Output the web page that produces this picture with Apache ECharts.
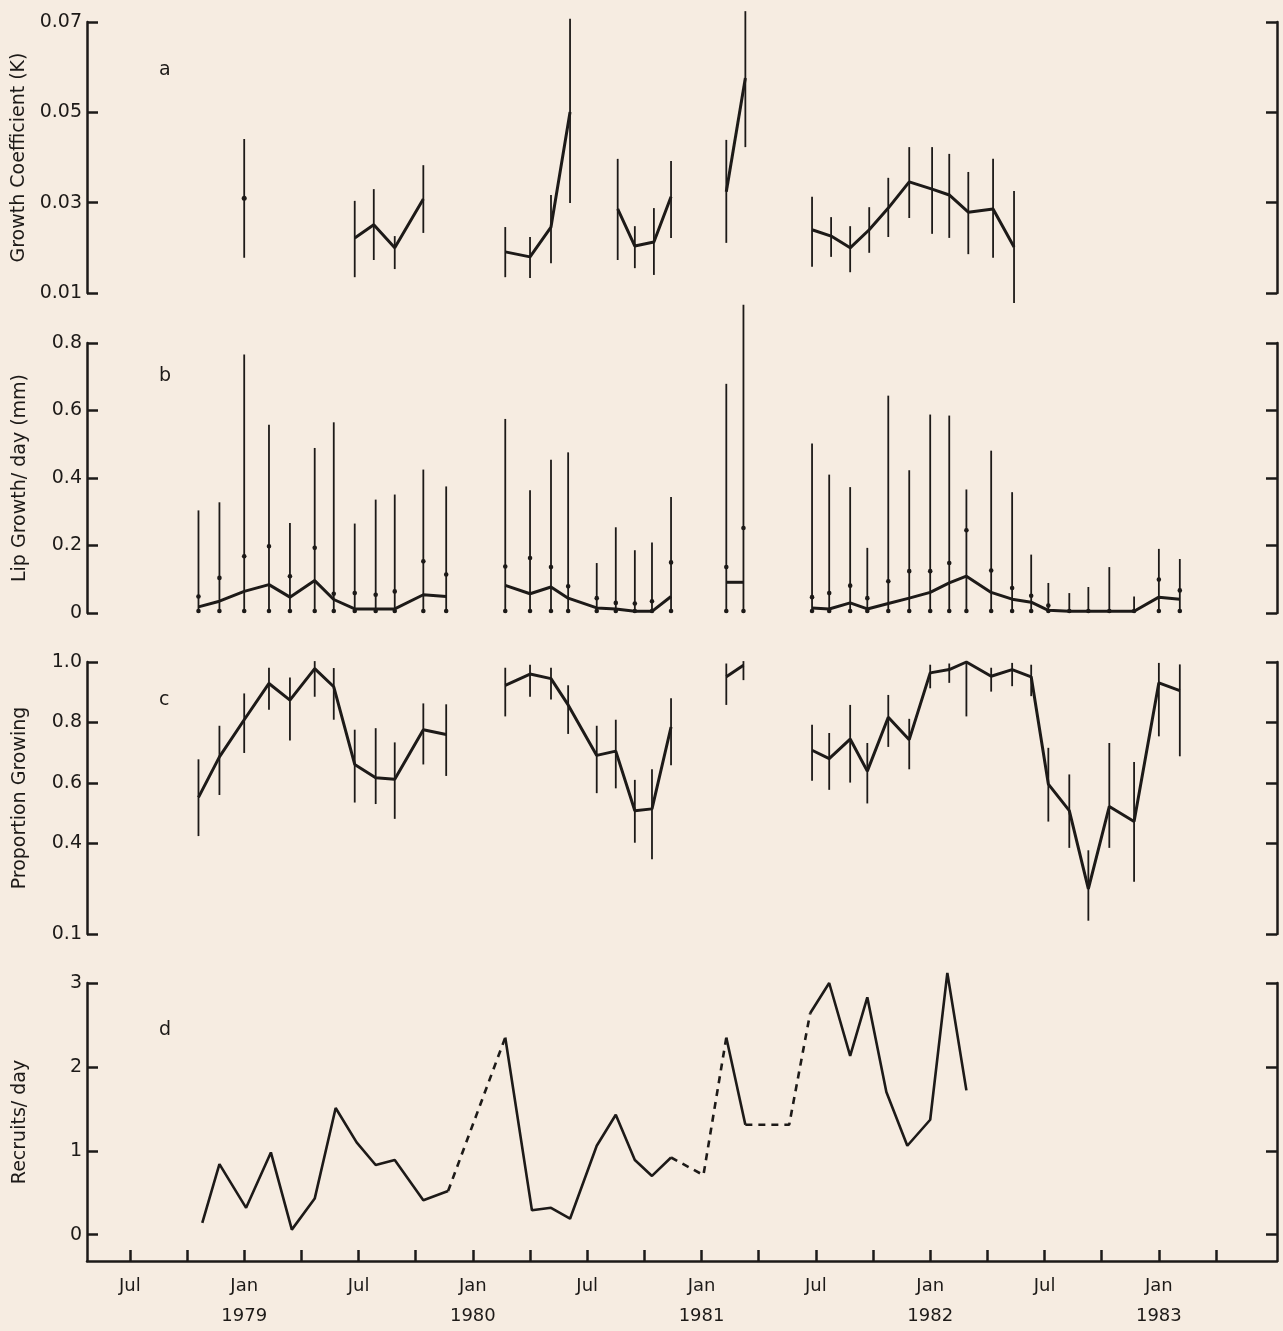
<!DOCTYPE html>
<html>
<head>
<meta charset="utf-8">
<script src="https://cdn.jsdelivr.net/npm/echarts@6/dist/echarts.min.js"></script>
<style>
  html, body { margin: 0; padding: 0; background: #f6ece1; }
  #chart { width: 1283px; height: 1331px; }
</style>
</head>
<body>
<div id="chart"></div>
<script>
// x = months counted from Jan 1978 (Jul 1978 = 6, Jan 1979 = 12 ...)
const xTicks = [6, 9, 12, 15, 18, 21, 24, 27, 30, 33, 36, 39, 42, 45, 48, 51, 54, 57, 60, 63];
const xLabelPos = [6, 12, 18, 24, 30, 36, 42, 48, 54, 60];
const xLabelText = ['Jul', 'Jan\n1979', 'Jul', 'Jan\n1980', 'Jul', 'Jan\n1981', 'Jul', 'Jan\n1982', 'Jul', 'Jan\n1983'];

// a: growth coefficient K
const kTicks = [0.01, 0.03, 0.05, 0.07];
const kMonth = [12.0, 17.8, 18.8, 19.9, 21.4, 25.7, 27.0, 28.1, 29.1, 31.6, 32.5, 33.5, 34.4, 37.3, 38.3,
  41.8, 42.8, 43.8, 44.8, 45.8, 46.9, 48.1, 49.0, 50.0, 51.3, 52.4];
const kMean = [0.0310, 0.0222, 0.0251, 0.0200, 0.0308, 0.0191, 0.0180, 0.0246, 0.0501, 0.0286, 0.0204, 0.0213, 0.0313, 0.0324, 0.0576,
  0.0240, 0.0226, 0.0200, 0.0240, 0.0288, 0.0346, 0.0330, 0.0317, 0.0279, 0.0286, 0.0202];
const kLo = [0.0178, 0.0135, 0.0173, 0.0153, 0.0233, 0.0135, 0.0133, 0.0166, 0.0299, 0.0173, 0.0155, 0.0140, 0.0222, 0.0211, 0.0423,
  0.0158, 0.0180, 0.0146, 0.0189, 0.0224, 0.0266, 0.0231, 0.0222, 0.0186, 0.0178, 0.0078];
const kHi = [0.0441, 0.0304, 0.0330, 0.0226, 0.0383, 0.0246, 0.0224, 0.0317, 0.0707, 0.0397, 0.0248, 0.0288, 0.0392, 0.0439, 0.0724,
  0.0313, 0.0268, 0.0248, 0.0290, 0.0355, 0.0423, 0.0423, 0.0408, 0.0368, 0.0397, 0.0326];
const kSegStart = [0, 1, 5, 9, 13, 15];

// b and c share sampling dates
const growMonth = [9.6, 10.7, 12.0, 13.3, 14.4, 15.7, 16.7, 17.8, 18.9, 19.9, 21.4, 22.6,
  25.7, 27.0, 28.1, 29.0, 30.5, 31.5, 32.5, 33.4, 34.4,
  37.3, 38.2,
  41.8, 42.7, 43.8, 44.7, 45.8, 46.9, 48.0, 49.0, 49.9, 51.2, 52.3, 53.3, 54.2, 55.3, 56.3, 57.4, 58.7, 60.0, 61.1];
const growSegStart = [0, 12, 21, 23];

// b: lip growth per day (mm)
const lipTicks = [0, 0.2, 0.4, 0.6, 0.8];
const lipMean = [0.018, 0.035, 0.064, 0.084, 0.047, 0.096, 0.040, 0.012, 0.012, 0.012, 0.054, 0.049,
  0.082, 0.057, 0.077, 0.044, 0.015, 0.012, 0.005, 0.005, 0.049,
  0.091, 0.091,
  0.015, 0.012, 0.030, 0.012, 0.028, 0.044, 0.061, 0.089, 0.109, 0.061, 0.041, 0.032, 0.008, 0.005, 0.005, 0.005, 0.005, 0.047, 0.041];
const lipMax = [0.304, 0.328, 0.766, 0.558, 0.267, 0.489, 0.565, 0.265, 0.336, 0.351, 0.425, 0.375,
  0.575, 0.364, 0.454, 0.476, 0.148, 0.254, 0.186, 0.209, 0.344,
  0.679, 0.913,
  0.502, 0.410, 0.373, 0.193, 0.644, 0.423, 0.588, 0.585, 0.366, 0.481, 0.358, 0.173, 0.089, 0.059, 0.077, 0.136, 0.049, 0.190, 0.160];
const lipSe = [0.049, 0.104, 0.168, 0.198, 0.109, 0.193, 0.057, 0.059, 0.054, 0.064, 0.153, 0.114,
  0.138, 0.163, 0.136, 0.079, 0.044, 0.030, 0.028, 0.035, 0.150,
  0.136, 0.252,
  0.047, 0.059, 0.081, 0.044, 0.094, 0.124, 0.124, 0.148, 0.245, 0.126, 0.074, 0.051, 0.022, null, null, null, null, 0.099, 0.067];

// c: proportion growing
const propTicks = [0.1, 0.4, 0.6, 0.8, 1.0];
const propMean = [0.552, 0.686, 0.809, 0.929, 0.874, 0.978, 0.918, 0.661, 0.617, 0.612, 0.776, 0.760,
  0.923, 0.960, 0.945, 0.858, 0.691, 0.705, 0.508, 0.514, 0.785,
  0.951, 0.989,
  0.708, 0.680, 0.745, 0.639, 0.817, 0.743, 0.964, 0.975, 1.000, 0.953, 0.975, 0.951, 0.596, 0.508, 0.249, 0.522, 0.472, 0.931, 0.905];
const propLo = [0.424, 0.560, 0.699, 0.842, 0.740, 0.885, 0.809, 0.535, 0.530, 0.481, 0.661, 0.623,
  0.820, 0.885, 0.876, 0.762, 0.566, 0.582, 0.402, 0.347, 0.658,
  0.858, 0.940,
  0.607, 0.577, 0.601, 0.532, 0.719, 0.645, 0.913, 0.931, 0.820, 0.902, 0.920, 0.887, 0.472, 0.385, 0.144, 0.385, 0.273, 0.754, 0.688];
const propHi = [0.678, 0.789, 0.896, 0.981, 0.949, 1.003, 0.980, 0.776, 0.781, 0.734, 0.863, 0.860,
  0.981, 0.991, 0.981, 0.923, 0.789, 0.809, 0.610, 0.645, 0.880,
  0.995, 1.003,
  0.792, 0.765, 0.858, 0.732, 0.891, 0.812, 0.991, 0.995, 1.000, 0.981, 0.997, 0.991, 0.716, 0.628, 0.377, 0.732, 0.669, 0.997, 0.992];

// d: recruits per day
const recTicks = [0, 1, 2, 3];
const recMonth = [9.8, 10.7, 12.1, 13.4, 14.5, 15.7, 16.8, 17.9, 18.9, 19.9, 21.4, 22.7,
  25.7, 27.1, 28.1, 29.1, 30.5, 31.5, 32.5, 33.4, 34.4, 36.1, 37.3, 38.3, 40.6,
  41.7, 42.7, 43.8, 44.7, 45.7, 46.8, 48.0, 48.9, 49.9];
const recVal = [0.14, 0.84, 0.32, 0.98, 0.06, 0.43, 1.51, 1.10, 0.83, 0.89, 0.41, 0.52,
  2.35, 0.29, 0.32, 0.19, 1.06, 1.43, 0.89, 0.70, 0.92, 0.71, 2.35, 1.31, 1.31,
  2.64, 3.00, 2.13, 2.83, 1.70, 1.06, 1.37, 3.12, 1.72];
const recDashedInto = [12, 21, 22, 24, 25]; // segment ending at this index is dashed

const ink = '#1d1a18';
const font = 'DejaVu Sans';
const xMin = 3.75, xMax = 66.2;

const grids = [
  { left: 87, right: 6, top: 22, height: 271 },
  { left: 87, right: 6, top: 343, height: 270 },
  { left: 87, right: 6, top: 662, height: 272 },
  { left: 87, right: 6, top: 983, height: 285 }
];

const xAxes = grids.map((g, i) => ({
  type: 'value', gridIndex: i, min: xMin, max: xMax, show: i === 3,
  axisLine: { onZero: false, lineStyle: { color: ink, width: 2.5 } },
  axisTick: { inside: true, length: 11, customValues: xTicks, lineStyle: { color: ink, width: 2.5 } },
  axisLabel: {
    customValues: xLabelPos, color: ink, fontFamily: font, fontSize: 18, margin: 10, lineHeight: 30,
    formatter: v => xLabelText[xLabelPos.indexOf(Math.round(v))]
  },
  splitLine: { show: false }
}));

function yPair(i, min, max, ticks, name, fmt) {
  const line = { show: true, onZero: false, lineStyle: { color: ink, width: 2.5 } };
  const tick = { show: true, inside: true, length: 11, customValues: ticks, lineStyle: { color: ink, width: 2.5 } };
  return [{
    type: 'value', gridIndex: i, position: 'left', min: min, max: max,
    name: name, nameLocation: 'middle', nameGap: 57,
    nameTextStyle: { color: ink, fontFamily: font, fontSize: 19 },
    axisLine: line, axisTick: tick,
    axisLabel: { customValues: ticks, color: ink, fontFamily: font, fontSize: 19, margin: 5, formatter: fmt },
    splitLine: { show: false }
  }, {
    type: 'value', gridIndex: i, position: 'right', min: min, max: max,
    axisLine: line, axisTick: tick, axisLabel: { show: false }, splitLine: { show: false }
  }];
}

const yAxes = [].concat(
  yPair(0, 0.01, 0.07, kTicks, 'Growth Coefficient (K)', v => v.toFixed(2)),
  yPair(1, 0, 0.8, lipTicks, 'Lip Growth/ day (mm)', v => v === 0 ? '0' : v.toFixed(1)),
  yPair(2, 0.1, 1.0, propTicks, 'Proportion Growing', v => v.toFixed(1)),
  yPair(3, -0.314, 3, recTicks, 'Recruits/ day', v => String(v))
);

function errBar(params, api) {
  const a = api.coord([api.value(0), api.value(1)]);
  const b = api.coord([api.value(0), api.value(2)]);
  return { type: 'line', shape: { x1: a[0], y1: a[1], x2: b[0], y2: b[1] }, style: { stroke: ink, lineWidth: 1.8 } };
}

function lipBar(params, api) {
  const a = api.coord([api.value(0), 0]);
  const b = api.coord([api.value(0), api.value(1)]);
  const kids = [
    { type: 'line', shape: { x1: a[0], y1: a[1], x2: b[0], y2: b[1] }, style: { stroke: ink, lineWidth: 1.8 } },
    { type: 'circle', shape: { cx: a[0], cy: a[1] - 2, r: 2.3 }, style: { fill: ink } }
  ];
  const se = api.value(2);
  if (!isNaN(se)) {
    const s = api.coord([api.value(0), se]);
    kids.push({ type: 'circle', shape: { cx: s[0], cy: s[1], r: 2.3 }, style: { fill: ink } });
  }
  return { type: 'group', children: kids };
}

const series = [];

function segLines(months, vals, starts, grid) {
  starts.forEach((s, k) => {
    const e = k + 1 < starts.length ? starts[k + 1] : months.length;
    const data = [];
    for (let i = s; i < e; i++) data.push([months[i], vals[i]]);
    series.push({
      type: 'line', xAxisIndex: grid, yAxisIndex: grid * 2, data: data, clip: false,
      symbol: 'circle', symbolSize: 5, showSymbol: data.length === 1,
      itemStyle: { color: ink }, lineStyle: { color: ink, width: 3 }, z: 3
    });
  });
}

// a
series.push({
  type: 'custom', xAxisIndex: 0, yAxisIndex: 0, renderItem: errBar, clip: false,
  data: kMonth.map((m, i) => [m, kLo[i], kHi[i]])
});
segLines(kMonth, kMean, kSegStart, 0);

// b
series.push({
  type: 'custom', xAxisIndex: 1, yAxisIndex: 2, renderItem: lipBar, clip: false,
  data: growMonth.map((m, i) => [m, lipMax[i], lipSe[i] == null ? '-' : lipSe[i]])
});
segLines(growMonth, lipMean, growSegStart, 1);

// c
series.push({
  type: 'custom', xAxisIndex: 2, yAxisIndex: 4, renderItem: errBar, clip: false,
  data: growMonth.map((m, i) => [m, propLo[i], propHi[i]])
});
segLines(growMonth, propMean, growSegStart, 2);

// d: solid and dashed runs
let run = null;
const runs = [];
for (let i = 1; i < recMonth.length; i++) {
  const dashed = recDashedInto.indexOf(i) >= 0;
  if (!run || run.dashed !== dashed) { run = { dashed: dashed, idx: [i - 1] }; runs.push(run); }
  run.idx.push(i);
}
runs.forEach(r => {
  series.push({
    type: 'line', xAxisIndex: 3, yAxisIndex: 6, clip: false, showSymbol: false,
    data: r.idx.map(i => [recMonth[i], recVal[i]]),
    lineStyle: { color: ink, width: 2.6, type: r.dashed ? [7, 6] : 'solid' }
  });
});

const chart = echarts.init(document.getElementById('chart'));
chart.setOption({
  backgroundColor: '#f6ece1',
  animation: false,
  title: [
    { text: 'a', left: 154, top: 56 },
    { text: 'b', left: 154, top: 362 },
    { text: 'c', left: 154, top: 686 },
    { text: 'd', left: 154, top: 1016 }
  ].map(t => Object.assign(t, { textStyle: { color: ink, fontFamily: font, fontSize: 19, fontWeight: 'normal' } })),
  grid: grids,
  xAxis: xAxes,
  yAxis: yAxes,
  series: series
});
</script>
</body>
</html>
